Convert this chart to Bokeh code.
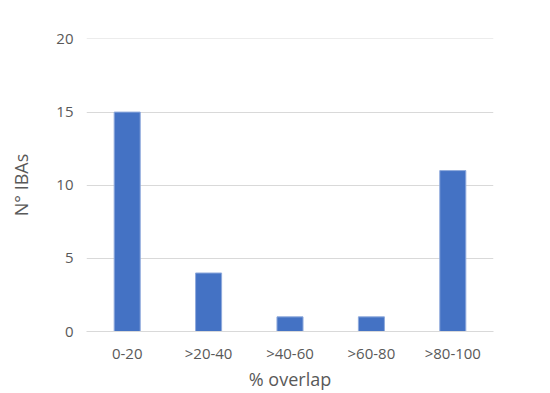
from bokeh.plotting import figure
from bokeh.embed import file_html
from bokeh.resources import INLINE
from bokeh.models import ColumnDataSource, FixedTicker

categories = ["0-20", ">20-40", ">40-60", ">60-80", ">80-100"]
counts = [15, 4, 1, 1, 11]
y_ticks = [0, 5, 10, 15, 20]

src = ColumnDataSource(dict(cat=categories, n=counts))

p = figure(x_range=categories, y_range=(0, 20.03),
           frame_width=407, frame_height=293,
           output_backend="svg", toolbar_location=None,
           min_border_left=86, min_border_right=57, min_border_top=38, min_border_bottom=62)
p.outline_line_color = None
p.background_fill_color = "white"
p.border_fill_color = "white"

p.vbar(x="cat", top="n", width=0.32, source=src, fill_color="#4472C4",
       line_color="#8FAADC", line_width=1)

p.xgrid.grid_line_color = None
p.ygrid.grid_line_color = "#D9D9D9"
p.ygrid.ticker = FixedTicker(ticks=y_ticks)
p.yaxis.ticker = FixedTicker(ticks=y_ticks)

for ax in (p.xaxis, p.yaxis):
    ax.major_tick_line_color = None
    ax.minor_tick_line_color = None
    ax.major_label_text_font = "Open Sans"
    ax.major_label_text_font_size = "15px"
    ax.major_label_text_color = "#595959"
    ax.axis_label_text_font = "Open Sans"
    ax.axis_label_text_font_size = "18px"
    ax.axis_label_text_font_style = "normal"
    ax.axis_label_text_color = "#595959"

p.yaxis.axis_line_color = None
p.xaxis.axis_line_color = "#D9D9D9"
p.yaxis.major_label_standoff = 7
p.xaxis.major_label_standoff = 5
p.xaxis.axis_label = "% overlap"
p.yaxis.axis_label = "N° IBAs"
p.xaxis.axis_label_standoff = 1
p.yaxis.axis_label_standoff = 20

open("out.html", "w").write(file_html(p, INLINE))
